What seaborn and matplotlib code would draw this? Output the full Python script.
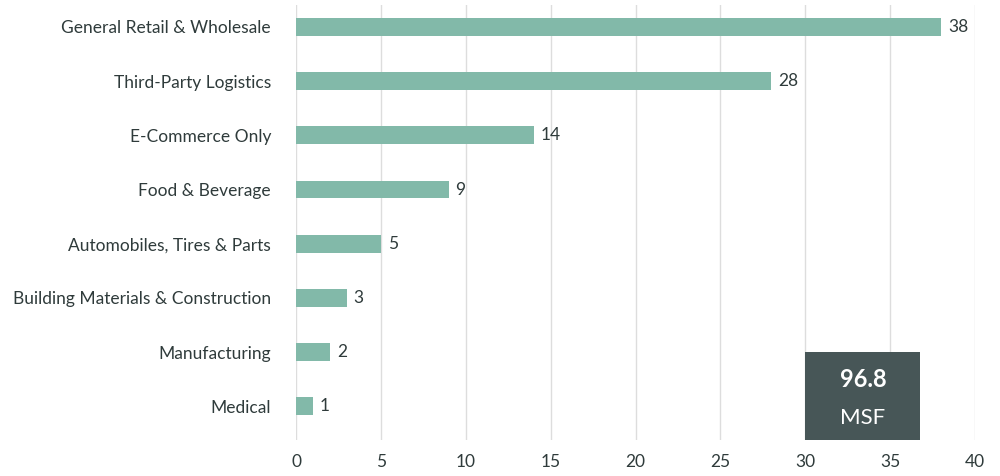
import matplotlib
matplotlib.use("Agg")
import matplotlib.pyplot as plt
import seaborn as sns
import pandas as pd
from matplotlib.patches import Rectangle

categories = ["General Retail & Wholesale", "Third-Party Logistics", "E-Commerce Only",
              "Food & Beverage", "Automobiles, Tires & Parts",
              "Building Materials & Construction", "Manufacturing", "Medical"]
values = [38, 28, 14, 9, 5, 3, 2, 1]
xticks = [0, 5, 10, 15, 20, 25, 30, 35, 40]
total_value = "96.8"
total_unit = "MSF"

plt.rcParams["font.family"] = "Lato"
txt = "#2f3b3b"
df = pd.DataFrame({"cat": categories, "val": values})
fig = plt.figure(figsize=(10, 4.76), dpi=100)
ax = fig.add_axes([0.296, 0.076, 0.679, 0.914])
sns.barplot(data=df, x="val", y="cat", color="#82b9a9", width=0.33, ax=ax, saturation=1, zorder=3)
for i, v in enumerate(values):
    ax.text(v + 0.4, i, str(v), va="center", ha="left", fontsize=12.5, color=txt, zorder=4)
ax.set_xlim(0, 40)
ax.set_ylim(7.62, -0.41)
ax.set_xticks(xticks)
ax.grid(axis="x", color="#dddddd", linewidth=1, zorder=0)
ax.grid(axis="y", visible=False)
for s in ax.spines.values():
    s.set_visible(False)
ax.set_xlabel(""); ax.set_ylabel("")
ax.tick_params(axis="both", length=0, labelsize=12.5, colors=txt)
ax.tick_params(axis="y", pad=18)
ax.tick_params(axis="x", pad=10)
rect = Rectangle((30.0, 7.62), 6.75, -1.63, facecolor="#475657", edgecolor="none", zorder=5)
ax.add_patch(rect)
ax.text(33.4, 6.5, total_value, ha="center", va="center", fontsize=17, fontweight="bold", color="white", zorder=6)
ax.text(33.4, 7.22, total_unit, ha="center", va="center", fontsize=16, color="white", zorder=6)
fig.savefig("out.png", dpi=100)
